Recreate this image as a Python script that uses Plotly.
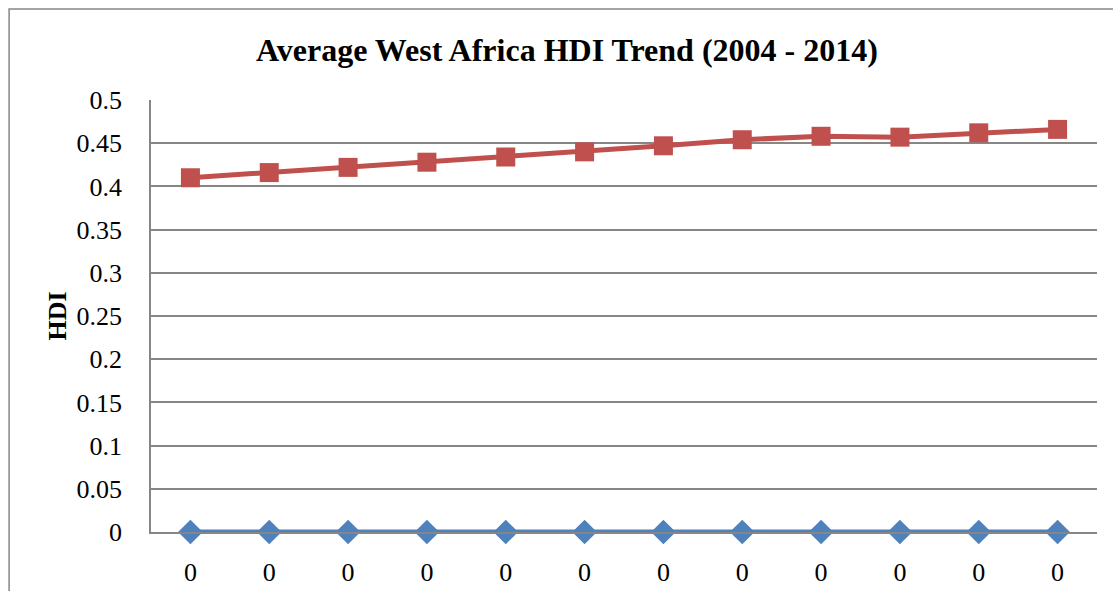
import plotly.graph_objects as go

# Category labels along the x axis (all exported as "0")
categories = ["0"] * 12
# Series 1: flat baseline series
series1_values = [0, 0, 0, 0, 0, 0, 0, 0, 0, 0, 0, 0]
# Series 2: average West Africa HDI, 2004-2014
series2_values = [0.410, 0.416, 0.422, 0.428, 0.434, 0.440, 0.447, 0.454, 0.458, 0.457, 0.462, 0.466]
y_ticks = [0, 0.05, 0.1, 0.15, 0.2, 0.25, 0.3, 0.35, 0.4, 0.45, 0.5]
y_tick_text = ["0", "0.05", "0.1", "0.15", "0.2", "0.25", "0.3", "0.35", "0.4", "0.45", "0.5"]

x_idx = list(range(len(categories)))
serif = "Liberation Serif, Times New Roman, serif"

fig = go.Figure()
fig.add_trace(go.Scatter(
    x=x_idx, y=series1_values, mode="lines+markers", name="Series1",
    line=dict(color="#4F81BD", width=5),
    marker=dict(symbol="diamond", size=19, color="#4F81BD"),
    cliponaxis=False,
))
fig.add_trace(go.Scatter(
    x=x_idx, y=series2_values, mode="lines+markers", name="Series2",
    line=dict(color="#C0504D", width=5),
    marker=dict(symbol="square", size=19, color="#C0504D"),
    cliponaxis=False,
))

fig.update_layout(
    width=1113, height=591,
    margin=dict(l=151, r=16, t=100, b=59),
    paper_bgcolor="white", plot_bgcolor="white",
    showlegend=False,
    title=dict(
        text="<b>Average West Africa HDI Trend (2004 - 2014)</b>",
        font=dict(family=serif, size=32, color="black"),
        x=0.5094, xref="container", xanchor="center",
        y=1 - 50 / 591, yref="container", yanchor="middle",
    ),
    font=dict(family=serif, size=26, color="black"),
    shapes=[dict(
        type="rect", xref="paper", yref="paper",
        x0=-0.150, y0=-0.3, x1=1.2, y1=1.2106,
        line=dict(color="#868686", width=1.5), layer="below",
    )],
)

fig.update_xaxes(
    range=[-0.5, 11.5], automargin=False,
    tickmode="array", tickvals=x_idx, ticktext=categories,
    showgrid=False, zeroline=False,
    showline=True, linecolor="#868686", linewidth=1.5,
    ticks="", ticklabelstandoff=16,
    tickfont=dict(family=serif, size=26, color="black"),
)
fig.update_yaxes(
    range=[0, 0.5], automargin=False,
    tickmode="array", tickvals=y_ticks, ticktext=y_tick_text,
    showgrid=True, gridcolor="#868686", gridwidth=1.5,
    zeroline=False,
    showline=True, linecolor="#868686", linewidth=1.5,
    ticks="", ticklabelstandoff=22,
    tickfont=dict(family=serif, size=26, color="black"),
    title=dict(text="<b>HDI</b>", font=dict(family=serif, size=26, color="black"), standoff=2),
)

fig.write_html("out.html")
